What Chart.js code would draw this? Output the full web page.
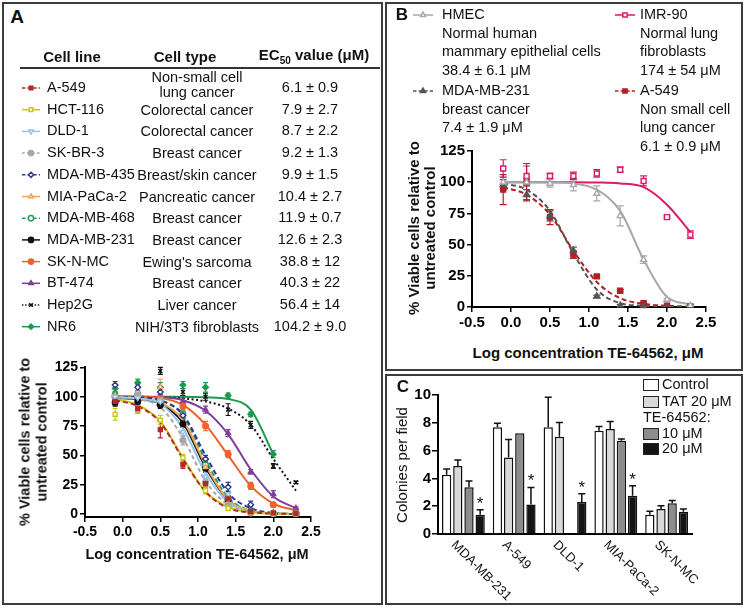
<!DOCTYPE html>
<html lang="en">
<head>
<meta charset="UTF-8">
<title>TE-64562 viability and colony formation</title>
<script src="https://cdn.jsdelivr.net/npm/chart.js"></script>
<style>
  body { margin:0; width:744px; height:608px; position:relative; overflow:hidden; background:#fff;
         font-family:"Liberation Sans", Arial, sans-serif; color:#111; }
  .panel { position:absolute; border:2px solid #3c3c3c; box-sizing:border-box; }
  .lbl { position:absolute; white-space:pre; line-height:1.05; }
  canvas { position:absolute; }
  .box { position:absolute; width:16px; height:12px; border:1.5px solid #222; box-sizing:border-box; }
</style>
</head>
<body>
<div class="panel" style="left:2px;top:2px;width:381px;height:603px"></div>
<div class="panel" style="left:385px;top:2px;width:358px;height:369px"></div>
<div class="panel" style="left:385px;top:374px;width:358px;height:231px"></div>
<div style="position:absolute;left:20px;top:67px;width:360px;height:2px;background:#333"></div>

<canvas id="legendA" width="40" height="280" style="left:10px;top:65px"></canvas>
<canvas id="chartA" width="285" height="190" style="left:40px;top:357px"></canvas>
<canvas id="legendB" width="240" height="95" style="left:405px;top:5px"></canvas>
<canvas id="chartB" width="293" height="197" style="left:427px;top:140px"></canvas>
<canvas id="chartC" width="314" height="218" style="left:398px;top:385px"></canvas>

<script>
// ---- data ----
// doses as log10 concentration (uM), shared by every viability curve
const doses = [-0.1, 0.2, 0.5, 0.8, 1.1, 1.4, 1.7, 2.0, 2.3];
const xTicks = [-0.5, 0, 0.5, 1, 1.5, 2, 2.5];
const viabTicks = [0, 25, 50, 75, 100, 125];

// panel A table
const cellLines = ['A-549', 'HCT-116', 'DLD-1', 'SK-BR-3', 'MDA-MB-435', 'MIA-PaCa-2',
                   'MDA-MB-468', 'MDA-MB-231', 'SK-N-MC', 'BT-474', 'Hep2G', 'NR6'];
const cellTypes = ['Non-small cell\nlung cancer', 'Colorectal cancer', 'Colorectal cancer', 'Breast cancer',
                   'Breast/skin cancer', 'Pancreatic cancer', 'Breast cancer', 'Breast cancer',
                   "Ewing's sarcoma", 'Breast cancer', 'Liver cancer', 'NIH/3T3 fibroblasts'];
const ec50A = ['6.1 ± 0.9', '7.9 ± 2.7', '8.7 ± 2.2', '9.2 ± 1.3', '9.9 ± 1.5', '10.4 ± 2.7',
               '11.9 ± 0.7', '12.6 ± 2.3', '38.8 ± 12', '40.3 ± 22', '56.4 ± 14', '104.2 ± 9.0'];

// panel A, % viable cells at each dose (same order as cellLines)
const viabA = [
  [96, 90, 72, 42, 26, 13, 2, 1, 0.5],        // A-549
  [85, 89, 80, 48, 20, 5, 1, 0.5, 0.5],       // HCT-116
  [100, 99, 96, 70, 32, 17, 2, 1, 0.5],       // DLD-1
  [100, 101, 97, 63, 27, 8, 1, 0.5, 0],       // SK-BR-3
  [110, 108, 104, 84, 47, 23, 8, 1, 0.5],     // MDA-MB-435
  [101, 104, 108, 84, 40, 10, 2, 1, 0.5],     // MIA-PaCa-2
  [101, 102, 97, 85, 42, 14, 2, 0.5, 0.5],    // MDA-MB-468
  [95, 96, 93, 77, 39, 12, 2, 0.5, 0.5],      // MDA-MB-231
  [100, 100, 99, 92, 75, 51, 24, 8, 1],       // SK-N-MC
  [101, 100, 99, 96, 89, 69, 36, 17, 5],      // BT-474
  [98, 100, 122, 104, 100, 89, 76, 41, 27],   // Hep2G
  [107, 112, 108, 110, 108, 101, 85, 51, null] // NR6
];
const errA = [
  [3, 4, 7, 3, 3, 2, 1, 1, 1],
  [5, 3, 4, 3, 3, 2, 1, 1, 1],
  [3, 3, 3, 4, 3, 3, 1, 1, 1],
  [3, 3, 4, 4, 3, 2, 1, 1, 1],
  [3, 3, 4, 3, 3, 4, 3, 1, 1],
  [3, 4, 7, 3, 3, 2, 1, 1, 1],
  [3, 3, 3, 3, 3, 2, 1, 1, 1],
  [3, 3, 3, 3, 3, 2, 1, 1, 1],
  [3, 3, 3, 3, 4, 3, 3, 2, 1],
  [3, 3, 3, 3, 3, 3, 2, 3, 1],
  [3, 3, 3, 3, 3, 5, 3, 2, 1],
  [3, 3, 4, 3, 4, 2, 2, 3, null]
];
// fitted dose-response curves read at the same doses
const fitA = [
  [97, 92, 78, 47, 19, 5, 1.5, 0.5, 0],
  [98, 93, 79, 48, 19, 6, 1.5, 0.5, 0],
  [99.5, 98.5, 94, 73, 35, 10, 2, 0.5, 0],
  [99.5, 98, 91, 65, 28, 8, 2, 0.5, 0],
  [100, 99.5, 97, 85, 50, 18, 5, 1, 0],
  [99.5, 99, 95, 80, 42, 12, 3, 0.5, 0],
  [100, 99.5, 97, 84, 46, 14, 3, 0.5, 0],
  [99, 98, 94, 78, 40, 12, 2.5, 0.5, 0],
  [100, 100, 99, 93, 76, 50, 24, 9, 3],
  [100, 100, 99.5, 97, 88, 68, 38, 15, 5],
  [100, 100, 99.5, 98.5, 96, 90, 76, 47, 20],
  [100, 100, 100, 100, 99.5, 98, 89, 51, null]
];

// panel B
const namesB = ['HMEC', 'MDA-MB-231', 'IMR-90', 'A-549'];
const legendTextB = [
  'HMEC\nNormal human\nmammary epithelial cells\n38.4 ± 6.1 μM',
  'MDA-MB-231\nbreast cancer\n7.4 ± 1.9 μM',
  'IMR-90\nNormal lung\nfibroblasts\n174 ± 54 μM',
  'A-549\nNon small cell\nlung cancer\n6.1 ± 0.9 μM'
];
const viabB = [
  [100, 100, 99, 98, 91, 73, 38, 6, 1],       // HMEC
  [98, 90, 73, 45, 8.5, 1, 0.5, 0, 0],        // MDA-MB-231
  [111, 105, 105, 105, 107, 110, 101, 72, 58],// IMR-90
  [94, 100, 72, 42, 24.5, 13, 3, 1, 0.5]      // A-549
];
const errB = [
  [4, 3, 3, 5, 6, 8, 3, 1, 1],
  [4, 4, 4, 3, 1, 1, 1, 0, 0],
  [7, 8, 2, 3, 3, 2, 4, 1, 3],
  [12, 15, 6, 3, 1, 1, 1, 0, 0]
];
const fitB = [
  [100, 100, 99.8, 99, 94, 77, 38, 8, 2],
  [99, 94, 77, 43, 14, 3, 1, 0.2, 0],
  [100, 100, 100, 100, 99.8, 99, 96, 82, 60],
  [96, 90, 74, 45, 20, 7, 2.5, 1, 0.3]
];

// panel C, colonies per field
const groupsC = ['MDA-MB-231', 'A-549', 'DLD-1', 'MIA-PaCa-2', 'SK-N-MC'];
const controlC = [4.27, 7.68, 7.68, 7.42, 1.39];
const controlErrC = [0.4, 0.29, 2.15, 0.31, 0.24];
const tatC = [4.9, 5.5, 7.0, 7.56, 1.8];
const tatErrC = [0.43, 1.3, 1.03, 0.53, 0.24];
const te10C = [3.37, 7.25, null, 6.7, 2.22];
const te10ErrC = [0.45, 0, null, 0.14, 0.19];
const te20C = [1.39, 2.13, 2.3, 2.75, 1.6];
const te20ErrC = [0.36, 1.22, 0.6, 0.72, 0.19];
const sigC = ['*', '*', '*', '*', ''];
const colonyTicks = [0, 2, 4, 6, 8, 10];

// ---- styles ----
const FONT = '"Liberation Sans", Arial, sans-serif';
const colorsA = ['#b7282e', '#c8c814', '#8fc6ea', '#a6a6a6', '#2b3a8f', '#f4a259',
                 '#2e9a5f', '#111111', '#f0622a', '#7d3f98', '#111111', '#1d9a4e'];
const shapesA = ['rect', 'rect', 'triangle', 'circle', 'rectRot', 'triangle',
                 'circle', 'circle', 'circle', 'triangle', 'crossRot', 'rectRot'];
const rotA = [0, 0, 180, 0, 0, 0, 0, 0, 0, 0, 0, 0];
const filledA = [true, false, false, true, false, false, false, true, true, true, true, true];
const dashA = [[5, 3], [], [], [4, 3], [5, 3], [], [5, 3], [], [], [], [2, 2.5], []];
const colorsB = ['#a8a8a8', '#555555', '#d81b6a', '#b22025'];
const shapesB = ['triangle', 'triangle', 'rect', 'rect'];
const filledB = [false, true, false, true];
const dashB = [[], [5, 3], [], [5, 3]];

Chart.defaults.font.family = FONT;
Chart.defaults.color = '#000';

// ---- text helpers ----
function label(text, x, y, css, anchor, html) {
  const d = document.createElement('div');
  d.className = 'lbl';
  if (html) d.innerHTML = text; else d.textContent = text;
  d.style.left = x + 'px';
  d.style.top = y + 'px';
  d.style.transform = anchor === 'left' ? 'translateY(-50%)' : 'translate(-50%,-50%)';
  Object.assign(d.style, css || {});
  document.body.appendChild(d);
  return d;
}
function vlabel(text, x, y, css) {
  const d = label(text, x, y, css);
  d.style.transform = 'translate(-50%,-50%) rotate(-90deg)';
  d.style.textAlign = 'center';
}

const cell = { fontSize: '14.5px' };
const bold = { fontSize: '14.5px', fontWeight: 'bold' };

// panel A table
label('A', 17, 17, { fontSize: '19px', fontWeight: 'bold' });
label('Cell line', 72, 57, { fontSize: '15px', fontWeight: 'bold' });
label('Cell type', 185, 57, { fontSize: '15px', fontWeight: 'bold' });
label('EC<sub style="font-size:10px">50</sub> value (μM)', 314, 57, { fontSize: '15px', fontWeight: 'bold' }, 'center', true);
const rowY = cellLines.map((_, i) => 88 + i * 21.7);
cellLines.forEach((name, i) => {
  label(name, 47, rowY[i], cell, 'left');
  label(cellTypes[i], 197, rowY[i] - (i === 0 ? 3 : 0), Object.assign({ textAlign: 'center', lineHeight: '15px' }, cell));
  label(ec50A[i], 310, rowY[i], cell);
});
vlabel('% Viable cells relative to\nuntreated control', 33, 442, Object.assign({ lineHeight: '16.5px' }, bold));
label('Log concentration TE-64562, μM', 197, 555, bold);

// panel B legend text
label('B', 402, 15, { fontSize: '17px', fontWeight: 'bold' });
const legendPosB = [[442, 42], [442, 109], [640, 42], [640, 118]];
legendTextB.forEach((t, i) => {
  label(t, legendPosB[i][0], legendPosB[i][1], Object.assign({ lineHeight: '18.5px' }, cell), 'left');
});
vlabel('% Viable cells relative to\nuntreated control', 422, 228, { fontSize: '15px', fontWeight: 'bold', lineHeight: '16px' });
label('Log concentration TE-64562, μM', 588, 353, { fontSize: '15px', fontWeight: 'bold' });

// panel C labels and legend
label('C', 403, 387, { fontSize: '17px', fontWeight: 'bold' });
vlabel('Colonies per field', 402, 465, { fontSize: '15px' });
const legendC = [['Control', '#fff', 385], ['TAT 20 μM', '#d9d9d9', 401.5], ['10 μM', '#8c8c8c', 433.5], ['20 μM', '#141414', 449]];
legendC.forEach(([t, c, y]) => {
  const b = document.createElement('div');
  b.className = 'box';
  b.style.left = '643px'; b.style.top = (y - 6) + 'px'; b.style.background = c;
  document.body.appendChild(b);
  label(t, 662, y, cell, 'left');
});
label('TE-64562:', 643, 418, cell, 'left');

// ---- legend icons ----
const drawPoint = (Chart.helpers && Chart.helpers.drawPoint) || function (ctx, o, x, y) {
  ctx.beginPath(); ctx.arc(x, y, o.radius, 0, Math.PI * 2); ctx.fill(); ctx.stroke();
};
function drawIcon(ctx, x0, x1, y, color, dash, shape, rot, filled, r) {
  ctx.save();
  ctx.strokeStyle = color;
  ctx.lineWidth = 1.5;
  ctx.setLineDash(dash);
  ctx.beginPath(); ctx.moveTo(x0, y); ctx.lineTo(x1, y); ctx.stroke();
  ctx.setLineDash([]);
  ctx.fillStyle = filled ? color : '#fff';
  drawPoint(ctx, { pointStyle: shape, rotation: rot, radius: r, borderWidth: 1.3 }, (x0 + x1) / 2, y);
  ctx.restore();
}
const lgA = document.getElementById('legendA').getContext('2d');
cellLines.forEach((_, i) => {
  drawIcon(lgA, 12, 30, rowY[i] - 65, colorsA[i], dashA[i].map(v => v * 0.7), shapesA[i], rotA[i], filledA[i], 2.6);
});
const lgB = document.getElementById('legendB').getContext('2d');
const iconPosB = [[8, 10], [8, 86], [210, 10], [210, 86]];
namesB.forEach((_, i) => {
  drawIcon(lgB, iconPosB[i][0], iconPosB[i][0] + 20, iconPosB[i][1], colorsB[i], dashB[i].map(v => v * 0.7), shapesB[i], 0, filledB[i], 3);
});

// ---- plugins ----
const errorBars = {
  id: 'errorBars',
  beforeDatasetsDraw(chart, args, opts) {
    const ctx = chart.ctx;
    const ys = chart.scales.y;
    chart.data.datasets.forEach((ds, i) => {
      if (!ds.errors) return;
      const meta = chart.getDatasetMeta(i);
      ctx.save();
      ctx.strokeStyle = ds.errorColor || ds.borderColor;
      ctx.lineWidth = opts.width || 1.2;
      ctx.setLineDash([]);
      meta.data.forEach((el, j) => {
        const raw = ds.data[j];
        const v = raw !== null && typeof raw === 'object' ? raw.y : raw;
        const e = ds.errors[j];
        if (v == null || !e) return;
        const hi = ys.getPixelForValue(v + e);
        const lo = ys.getPixelForValue(opts.upOnly ? v : v - e);
        const c = opts.cap || 3;
        ctx.beginPath();
        ctx.moveTo(el.x, lo); ctx.lineTo(el.x, hi);
        ctx.moveTo(el.x - c, hi); ctx.lineTo(el.x + c, hi);
        if (!opts.upOnly) { ctx.moveTo(el.x - c, lo); ctx.lineTo(el.x + c, lo); }
        ctx.stroke();
      });
      ctx.restore();
    });
  }
};

const barExtras = {
  id: 'barExtras',
  afterDraw(chart) {
    const ctx = chart.ctx;
    const xs = chart.scales.x, ys = chart.scales.y;
    const meta = chart.getDatasetMeta(3);
    ctx.save();
    ctx.fillStyle = '#111';
    ctx.textAlign = 'center';
    ctx.textBaseline = 'alphabetic';
    ctx.font = '17px ' + FONT;
    sigC.forEach((s, i) => {
      if (!s) return;
      ctx.fillText(s, meta.data[i].x, ys.getPixelForValue(te20C[i] + te20ErrC[i]) - 1);
    });
    // slanted group names under the axis
    ctx.font = '13px ' + FONT;
    ctx.textAlign = 'left';
    ctx.textBaseline = 'middle';
    groupsC.forEach((g, i) => {
      ctx.save();
      ctx.translate(xs.getPixelForValue(i) - 10, xs.top + 9);
      ctx.rotate(Math.PI / 4);
      ctx.fillText(g, 0, 0);
      ctx.restore();
    });
    ctx.restore();
  }
};

// ---- chart builders ----
function doseDatasets(names, pts, errs, fits, colors, shapes, rots, filled, dashes, radius) {
  const sets = [];
  names.forEach((name, i) => {
    sets.push({
      label: name,
      data: doses.map((x, j) => ({ x: x, y: pts[i][j] })),
      showLine: false,
      borderColor: colors[i],
      pointStyle: shapes[i],
      pointRotation: rots[i],
      pointRadius: radius,
      pointBorderWidth: 1.4,
      pointBorderColor: colors[i],
      pointBackgroundColor: filled[i] ? colors[i] : '#fff',
      errors: errs[i],
      order: 0
    });
    sets.push({
      label: name + ' fit',
      data: doses.map((x, j) => ({ x: x, y: fits[i][j] })),
      borderColor: colors[i],
      borderWidth: 2,
      borderDash: dashes[i],
      pointRadius: 0,
      cubicInterpolationMode: 'monotone',
      fill: false,
      order: 1
    });
  });
  return sets;
}

function doseOptions(yMin, tickSize, cap) {
  const tickFont = { size: tickSize, weight: 'bold' };
  return {
    responsive: false,
    animation: false,
    events: [],
    devicePixelRatio: 1,
    layout: { padding: { top: 10, right: 14, left: 0, bottom: 0 } },
    plugins: { legend: { display: false }, tooltip: { enabled: false }, errorBars: { cap: cap, width: 1.2 } },
    scales: {
      x: {
        type: 'linear', min: -0.5, max: 2.5,
        afterBuildTicks: s => { s.ticks = xTicks.map(v => ({ value: v })); },
        afterFit: s => { s.height = 30; },
        ticks: { font: tickFont, color: '#000', padding: 2, maxRotation: 0, callback: v => v.toFixed(1) },
        grid: { drawOnChartArea: false, tickLength: 5, color: '#000', lineWidth: 1.5 },
        border: { color: '#000', width: 2 }
      },
      y: {
        min: yMin, max: 125,
        afterBuildTicks: s => { s.ticks = viabTicks.map(v => ({ value: v })); },
        afterFit: s => { s.width = 45; },
        ticks: { font: tickFont, color: '#000', padding: 2 },
        grid: { drawOnChartArea: false, tickLength: 5, color: '#000', lineWidth: 1.5 },
        border: { color: '#000', width: 2 }
      }
    }
  };
}

new Chart(document.getElementById('chartA'), {
  type: 'line',
  data: { datasets: doseDatasets(cellLines, viabA, errA, fitA, colorsA, shapesA, rotA, filledA, dashA, 2.8) },
  options: doseOptions(-2.5, 14, 2.5),
  plugins: [errorBars]
});

new Chart(document.getElementById('chartB'), {
  type: 'line',
  data: { datasets: doseDatasets(namesB, viabB, errB, fitB, colorsB, shapesB, [0, 0, 0, 0], filledB, dashB, 3.5) },
  options: doseOptions(0, 15, 3.5),
  plugins: [errorBars]
});

const barStyle = { borderColor: '#111', borderWidth: 1.5, barPercentage: 0.83, categoryPercentage: 0.88, errorColor: '#111' };
new Chart(document.getElementById('chartC'), {
  type: 'bar',
  data: {
    labels: groupsC,
    datasets: [
      Object.assign({ label: 'Control', data: controlC, errors: controlErrC, backgroundColor: '#ffffff' }, barStyle),
      Object.assign({ label: 'TAT 20 μM', data: tatC, errors: tatErrC, backgroundColor: '#d9d9d9' }, barStyle),
      Object.assign({ label: 'TE-64562 10 μM', data: te10C, errors: te10ErrC, backgroundColor: '#8c8c8c' }, barStyle),
      Object.assign({ label: 'TE-64562 20 μM', data: te20C, errors: te20ErrC, backgroundColor: '#141414' }, barStyle)
    ]
  },
  options: {
    responsive: false,
    animation: false,
    events: [],
    devicePixelRatio: 1,
    layout: { padding: { top: 10, right: 20, left: 0, bottom: 0 } },
    plugins: { legend: { display: false }, tooltip: { enabled: false }, errorBars: { cap: 3.5, width: 1.5, upOnly: true } },
    scales: {
      x: {
        grid: { display: false },
        ticks: { display: false },
        afterFit: s => { s.height = 69; },
        border: { color: '#000', width: 2 }
      },
      y: {
        min: 0, max: 10,
        afterBuildTicks: s => { s.ticks = colonyTicks.map(v => ({ value: v })); },
        afterFit: s => { s.width = 40; },
        ticks: { font: { size: 15, weight: 'bold' }, color: '#000', padding: 1 },
        grid: { drawOnChartArea: false, tickLength: 6, color: '#000', lineWidth: 1.5 },
        border: { color: '#000', width: 2 }
      }
    }
  },
  plugins: [errorBars, barExtras]
});
</script>
</body>
</html>
